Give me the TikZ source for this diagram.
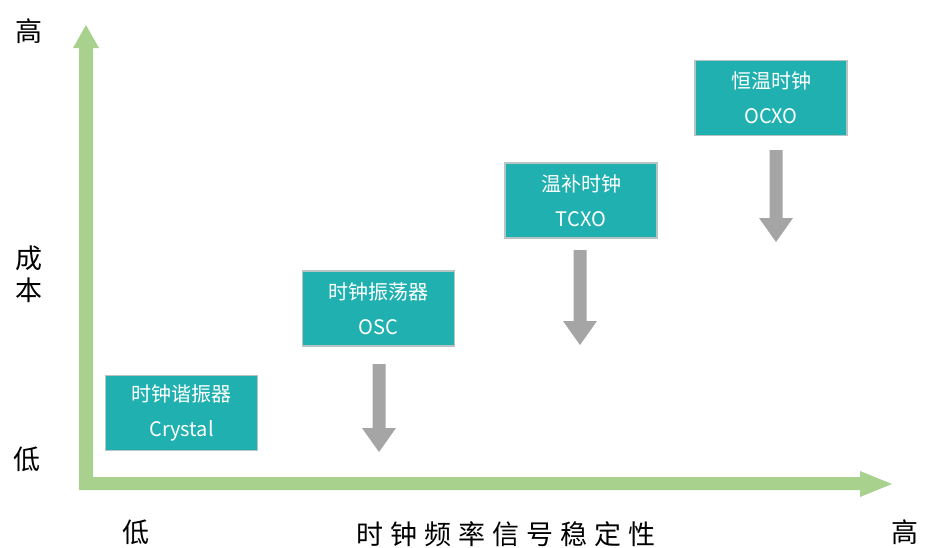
\documentclass[tikz,border=0pt]{standalone}
\usepackage{fontspec}
\setmainfont{Noto Sans CJK SC}
\newfontfamily\cjk{Noto Sans CJK SC}
\definecolor{axisgreen}{HTML}{A9D18E}
\definecolor{boxteal}{HTML}{20B0B0}
\definecolor{boxedge}{HTML}{B8C4C4}
\definecolor{arrowgray}{HTML}{A5A5A5}
\begin{document}
\begin{tikzpicture}[x=1pt,y=-1pt,
  boxnode/.style={draw=boxedge,line width=1.2pt,fill=boxteal,text=white,minimum width=152pt,minimum height=75pt,inner sep=0pt,align=center,font=\cjk\fontsize{20}{35}\selectfont},
  axlabel/.style={inner sep=0pt,font=\cjk\fontsize{27}{32}\selectfont}]
\useasboundingbox (0,0) rectangle (925,547);
% axes
\fill[axisgreen] (79,490) -- (79,48) -- (73,48) -- (86,25) -- (99,48) -- (93,48) -- (93,477) -- (860,477) -- (860,471) -- (892,484) -- (860,497) -- (860,490) -- cycle;
% boxes
\node[boxnode] (crystal) at (181.5,413) {时钟谐振器\\Crystal};
\node[boxnode] (osc) at (378.5,308.5) {时钟振荡器\\OSC};
\node[boxnode] (tcxo) at (581,200.5) {温补时钟\\TCXO};
\node[boxnode] (ocxo) at (771,98) {恒温时钟\\OCXO};
% gray arrows
\coordinate (a1) at (379,364);
\coordinate (a2) at (580,250);
\coordinate (a3) at (776,150);
\foreach \c/\l in {a1/88,a2/95,a3/92}{
  \begin{scope}[shift={(\c)}]
  \fill[arrowgray] (-6.5,0) -- (-6.5,\l-24) -- (-17,\l-24) -- (0,\l) -- (17,\l-24) -- (6.5,\l-24) -- (6.5,0) -- cycle;
  \end{scope}
}
% labels
\node[axlabel] (yhigh) at (29,31) {高};
\node[axlabel,align=center] (ycost) at (29,274) {成\\本};
\node[axlabel] (ylow) at (27,459) {低};
\node[axlabel] (xlow) at (136,532) {低};
\node[axlabel] (xtitle) at (506,534) {时\hspace{7pt}钟\hspace{7pt}频\hspace{7pt}率\hspace{7pt}信\hspace{7pt}号\hspace{7pt}稳\hspace{7pt}定\hspace{7pt}性};
\node[axlabel] (xhigh) at (905,532) {高};
\end{tikzpicture}
\end{document}
